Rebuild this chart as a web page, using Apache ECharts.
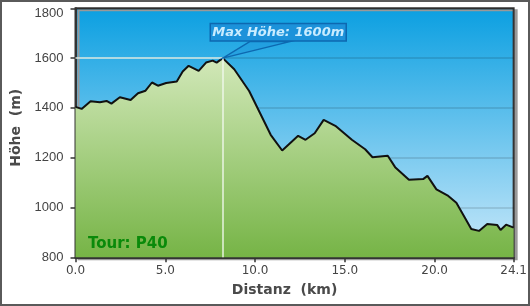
<!DOCTYPE html>
<html><head><meta charset="utf-8">
<script src="https://cdn.jsdelivr.net/npm/echarts@6/dist/echarts.min.js"></script>
<style>html,body{margin:0;padding:0;background:#fff}#c{width:530px;height:306px}</style>
</head><body><div id="c"></div>
<script>
const distanceKm = [0, 0.34, 0.84, 1.36, 1.73, 2.0, 2.47, 3.07, 3.48, 3.9, 4.26, 4.59, 5.05, 5.64, 5.97, 6.3, 6.86, 7.27, 7.64, 7.86, 8.2, 8.84, 9.67, 10.87, 11.51, 12.4, 12.81, 13.32, 13.82, 14.47, 15.39, 16.13, 16.54, 17.39, 17.8, 18.57, 19.36, 19.6, 20.1, 20.71, 21.21, 21.67, 22.04, 22.47, 22.93, 23.48, 23.67, 23.98, 24.4];
const elevationM = [1404, 1396, 1427, 1423, 1428, 1417, 1443, 1432, 1459, 1469, 1502, 1489, 1500, 1506, 1546, 1569, 1549, 1582, 1590, 1582, 1600, 1555, 1468, 1292, 1229, 1288, 1272, 1298, 1352, 1328, 1272, 1234, 1202, 1208, 1162, 1111, 1114, 1127, 1073, 1049, 1019, 961, 914, 906, 934, 930, 910, 931, 919];
const xMax = 24.4;
const totalDistanceLabel = '24.1';
const yTicks = [800, 1000, 1200, 1400, 1600, 1800];
const maxPoint = [8.2, 1600];
const maxLabel = 'Max Höhe: 1600m';
const tourLabel = 'Tour: P40';

const chart = echarts.init(document.getElementById('c'));
const data = distanceKm.map((d, i) => [d, elevationM[i]]);
chart.setOption({
  animation: false,
  grid: {
    left: 75.5, right: 14, top: 8.3, bottom: 48.7,
    show: true,
    backgroundColor: new echarts.graphic.LinearGradient(0, 0, 0, 1, [
      {offset: 0, color: '#0a9fe1'}, {offset: 1, color: '#cbe9fa'}
    ]),
    borderColor: '#333', borderWidth: 2,
    shadowColor: '#999', shadowOffsetX: 3, shadowOffsetY: 2, shadowBlur: 0
  },
  title: {
    text: tourLabel, left: 83, top: 232,
    textStyle: {color: '#0a8a0a', fontSize: 15, fontWeight: 'bold', fontFamily: 'DejaVu Sans'}
  },
  xAxis: {
    type: 'value', min: 0, max: xMax, interval: 5,
    name: 'Distanz  (km)', nameLocation: 'middle', nameGap: 26,
    nameTextStyle: {color: '#4a4a4a', fontSize: 14, fontWeight: 'bold', fontFamily: 'DejaVu Sans', padding: [0, 20, 0, 0]},
    axisLine: {lineStyle: {color: '#333', width: 2}},
    axisTick: {lineStyle: {color: '#333', width: 1.5}, length: 5},
    splitLine: {show: false},
    axisLabel: {
      color: '#444', fontSize: 12, fontFamily: 'DejaVu Sans', margin: 8,
      formatter: v => (Math.abs(v - xMax) < 1e-6 ? totalDistanceLabel : v.toFixed(1))
    }
  },
  yAxis: {
    type: 'value', min: yTicks[0], max: yTicks[yTicks.length - 1], interval: 200,
    name: 'Höhe  (m)', nameLocation: 'middle', nameGap: 48, nameRotate: 90,
    nameTextStyle: {color: '#4a4a4a', fontSize: 14, fontWeight: 'bold', fontFamily: 'DejaVu Sans', padding: [0, 0, 0, 10]},
    axisLine: {show: true, lineStyle: {color: '#333', width: 2}},
    axisTick: {show: true, lineStyle: {color: '#333', width: 1.5}, length: 5},
    splitLine: {lineStyle: {color: 'rgba(0,0,0,0.15)', width: 1.5}},
    axisLabel: {
      color: '#444', fontSize: 13, fontFamily: 'Liberation Sans', margin: 12,
      formatter: v => (v === yTicks[yTicks.length - 1] ? '{t|' + v + '}' : String(v)),
      rich: {t: {padding: [10, 0, 0, 0], fontSize: 13, fontFamily: 'Liberation Sans', color: '#444'}}
    }
  },
  series: [{
    type: 'line', data: data, symbol: 'none',
    lineStyle: {color: '#111', width: 2},
    areaStyle: {
      opacity: 1,
      color: new echarts.graphic.LinearGradient(0, 0, 0, 1, [
        {offset: 0, color: '#d2e8b9'}, {offset: 1, color: '#76b446'}
      ])
    },
    markLine: {
      silent: true, symbol: 'none', label: {show: false},
      lineStyle: {color: '#f2f8ee', width: 1.5, type: 'solid', opacity: 0.9},
      data: [
        [{coord: [0, maxPoint[1]]}, {coord: maxPoint}],
        [{coord: maxPoint}, {coord: [maxPoint[0], yTicks[0]]}]
      ]
    },
    z: 3
  }]
});

const p = chart.convertToPixel({gridIndex: 0}, maxPoint);
chart.setOption({
  graphic: [
    {
      type: 'polygon', z: 100,
      shape: {points: [[p[0] + 27, p[1] - 16.5], [p[0], p[1]], [p[0] + 67, p[1] - 16.5]]},
      style: {fill: 'rgba(20,130,210,0.25)', stroke: '#0d68b0', lineWidth: 1.3}
    },
    {
      type: 'rect', z: 101,
      shape: {x: p[0] - 12.5, y: p[1] - 34.5, width: 136, height: 17.5},
      style: {fill: '#1c92da', stroke: '#0d68b0', lineWidth: 1.5}
    },
    {
      type: 'text', z: 102,
      x: p[0] + 55.5, y: p[1] - 25.5,
      style: {
        text: maxLabel, fill: '#c9ecff', fontSize: 13, fontWeight: 'bold', fontStyle: 'italic',
        fontFamily: 'DejaVu Sans', align: 'center', verticalAlign: 'middle'
      }
    },
    {
      type: 'rect', z: 0, silent: true,
      shape: {x: 1, y: 1, width: 528, height: 304},
      style: {fill: 'none', stroke: '#5a5a5a', lineWidth: 2}
    }
  ]
});
</script></body></html>
